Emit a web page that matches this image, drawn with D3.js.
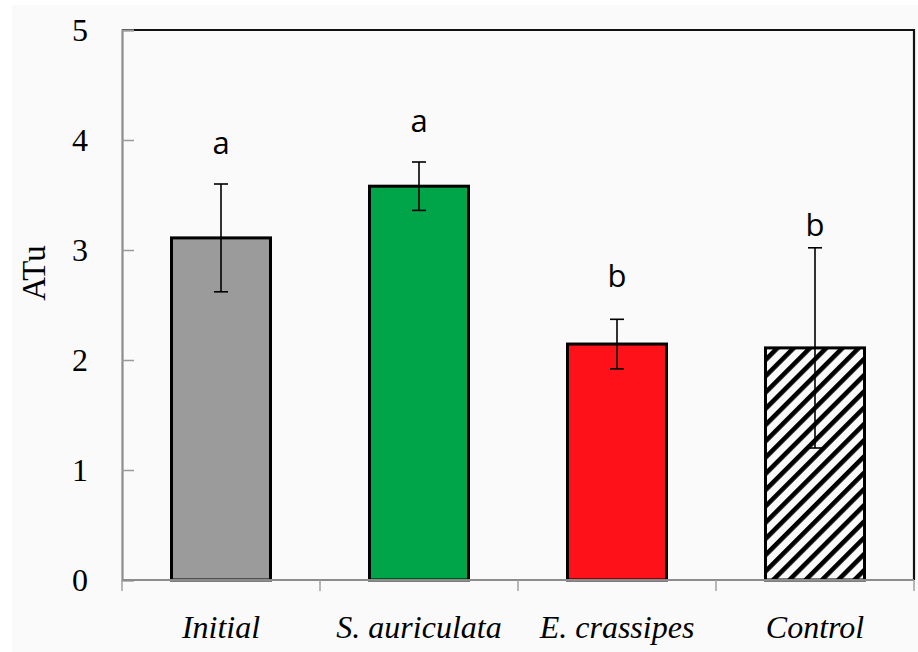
<!DOCTYPE html>
<html>
<head>
<meta charset="utf-8">
<script src="https://cdn.jsdelivr.net/npm/d3@7"></script>
<style>
  html, body { margin: 0; padding: 0; background: #ffffff; }
  svg { display: block; }
</style>
</head>
<body>
<svg id="chart" width="918" height="652"></svg>
<script>
// Treatment groups, mean ATu, error bar half-widths and significance letters
const categories = ["Initial", "S. auriculata", "E. crassipes", "Control"];
const means = [3.11, 3.58, 2.145, 2.11];
const errors = [0.49, 0.22, 0.225, 0.91];
const letters = ["a", "a", "b", "b"];
const letterAt = [3.87, 4.07, 2.66, 3.13];
const yTicks = [0, 1, 2, 3, 4, 5];
const fills = ["#9b9b9b", "#00a54a", "#fe1119", "url(#hatch)"];

const svg = d3.select("#chart");
const W = 918, H = 652;
const plotL = 122, plotR = 914, plotT = 30, plotB = 580;

// page backdrop
svg.append("rect").attr("width", W).attr("height", H).attr("fill", "#ffffff");
svg.append("rect").attr("x", 12).attr("y", 5).attr("width", W - 12).attr("height", H - 5).attr("fill", "#fafafa");

// diagonal hatch for the control bar
const defs = svg.append("defs");
const pat = defs.append("pattern")
  .attr("id", "hatch")
  .attr("patternUnits", "userSpaceOnUse")
  .attr("width", 11.5).attr("height", 11.5)
  .attr("patternTransform", "rotate(45)");
pat.append("rect").attr("width", 11.5).attr("height", 11.5).attr("fill", "#fafafa");
pat.append("rect").attr("x", 0).attr("y", 0).attr("width", 4.6).attr("height", 11.5).attr("fill", "#000");

const x = d3.scaleBand().domain(categories).range([plotL, plotR])
  .paddingInner(0.5).paddingOuter(0.25);
const y = d3.scaleLinear().domain([0, 5]).range([plotB, plotT]);

// plot frame: top and right edges
svg.append("path")
  .attr("d", `M${plotL},${plotT}H${plotR}V${plotB}`)
  .attr("fill", "none").attr("stroke", "#111").attr("stroke-width", 2.2);

// bars
const data = categories.map((c, i) => ({ c, m: means[i], e: errors[i], l: letters[i], la: letterAt[i], f: fills[i] }));

svg.append("g").selectAll("rect").data(data).join("rect")
  .attr("x", d => x(d.c))
  .attr("y", d => y(d.m))
  .attr("width", x.bandwidth())
  .attr("height", d => y(0) - y(d.m))
  .attr("fill", d => d.f)
  .attr("stroke", "#000")
  .attr("stroke-width", 3);

// error bars
const eg = svg.append("g").attr("stroke", "#000").attr("stroke-width", 1.6);
data.forEach(d => {
  const cx = x(d.c) + x.bandwidth() / 2;
  eg.append("line").attr("x1", cx).attr("x2", cx).attr("y1", y(d.m + d.e)).attr("y2", y(d.m - d.e));
  eg.append("line").attr("x1", cx - 7).attr("x2", cx + 7).attr("y1", y(d.m + d.e)).attr("y2", y(d.m + d.e));
  eg.append("line").attr("x1", cx - 7).attr("x2", cx + 7).attr("y1", y(d.m - d.e)).attr("y2", y(d.m - d.e));
});

// significance letters
svg.append("g").selectAll("text").data(data).join("text")
  .attr("x", d => x(d.c) + x.bandwidth() / 2)
  .attr("y", d => y(d.la))
  .attr("text-anchor", "middle")
  .attr("font-family", "'Open Sans', sans-serif")
  .attr("font-size", 31)
  .attr("fill", "#000")
  .text(d => d.l);

// y axis
const yAxis = svg.append("g").attr("transform", `translate(${plotL},0)`)
  .call(d3.axisLeft(y).tickValues(yTicks).tickFormat(d3.format("d")).tickSize(-12).tickPadding(34));
yAxis.select(".domain").attr("stroke", "#8c8c8c").attr("stroke-width", 2.2);
yAxis.selectAll(".tick line").attr("stroke", "#9a9a9a").attr("stroke-width", 1.5);
yAxis.selectAll(".tick text")
  .attr("font-family", "'Liberation Serif', serif")
  .attr("font-size", 32)
  .attr("fill", "#000")
  .attr("dy", "0.34em");

// x axis: baseline, category boundary ticks, italic labels
const xg = svg.append("g");
xg.append("line").attr("x1", plotL).attr("x2", plotR).attr("y1", plotB).attr("y2", plotB)
  .attr("stroke", "#8c8c8c").attr("stroke-width", 2.2);
const step = x.step();
const bounds = categories.map(c => x(c) - step * 0.25).concat([plotR]);
xg.selectAll("line.tk").data(bounds).join("line").attr("class", "tk")
  .attr("x1", d => d).attr("x2", d => d).attr("y1", plotB).attr("y2", plotB + 11)
  .attr("stroke", "#a0a0a0").attr("stroke-width", 1.5);
xg.selectAll("text").data(categories).join("text")
  .attr("x", d => x(d) + x.bandwidth() / 2)
  .attr("y", 638)
  .attr("text-anchor", "middle")
  .attr("font-family", "'Liberation Serif', serif")
  .attr("font-style", "italic")
  .attr("font-size", 32)
  .attr("fill", "#000")
  .text(d => d);

// y axis title
svg.append("text")
  .attr("transform", "translate(45,273) rotate(-90)")
  .attr("text-anchor", "middle")
  .attr("font-family", "'Liberation Serif', serif")
  .attr("font-size", 33)
  .attr("fill", "#000")
  .text("ATu");
</script>
</body>
</html>
